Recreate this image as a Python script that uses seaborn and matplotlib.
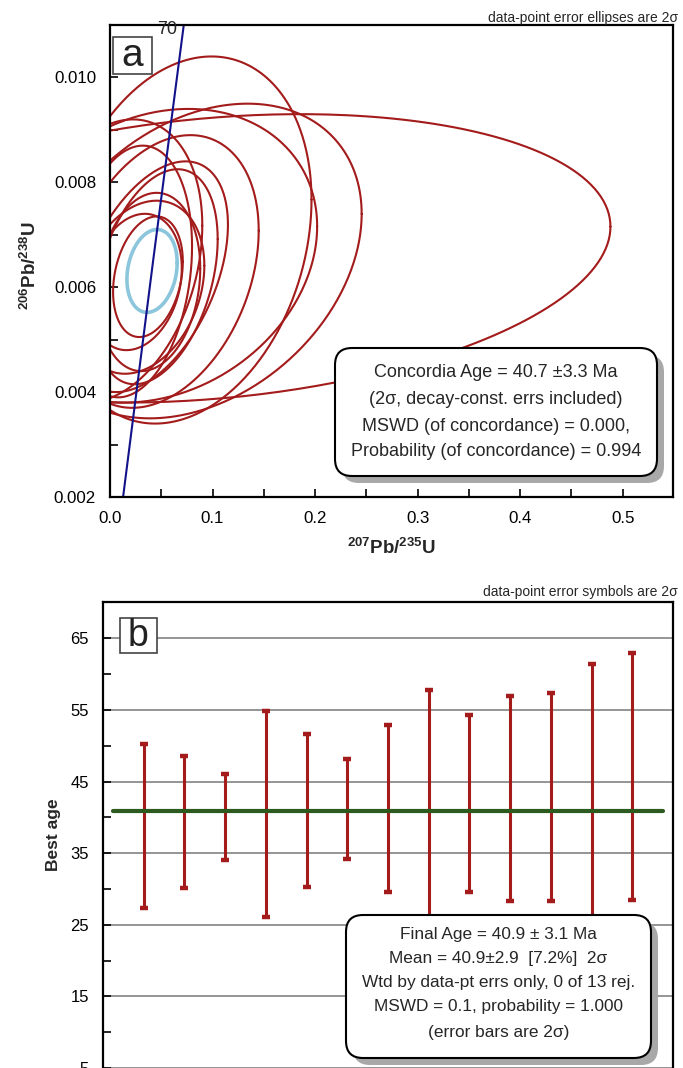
import numpy as np
import pandas as pd
import matplotlib
matplotlib.use("Agg")
import matplotlib.pyplot as plt
import seaborn as sns
from matplotlib.patches import FancyBboxPatch, Rectangle
from matplotlib.transforms import IdentityTransform
from matplotlib.ticker import MultipleLocator, FormatStrFormatter, FixedLocator

# ---------------- data: panel a (concordia) ----------------
ell_id  = [1, 2, 3, 4, 5, 6, 7, 8, 9, 10, 11, 12, 13]
ell_cx  = [0.037, 0.038, 0.030, 0.045, 0.040, 0.0715, 0.0864, 0.045, 0.100, 0.020, 0.000, 0.025, 0.050]
ell_cy  = [0.0062, 0.0061, 0.0060, 0.0062, 0.0062, 0.0069, 0.0065, 0.0066, 0.00655, 0.0063, 0.0065, 0.0061, 0.0063]
ell_sx  = [0.034, 0.050, 0.062, 0.060, 0.075, 0.125, 0.159, 0.157, 0.388, 0.060, 0.090, 0.045, 0.095]
ell_sy  = [0.00115, 0.00170, 0.00165, 0.00205, 0.00220, 0.0035, 0.0030, 0.0028, 0.00275, 0.0024, 0.0027, 0.0013, 0.0026]
ell_rho = [0.25, 0.15, 0.25, 0.35, 0.45, 0.22, 0.30, 0.20, 0.22, 0.20, 0.25, 0.20, 0.30]

conc_cx, conc_cy, conc_sx, conc_sy, conc_rho = 0.041, 0.00631, 0.0245, 0.00079, 0.20

concordia_x = [0.01277, 0.04202, 0.07193]
concordia_y = [0.0020, 0.0065, 0.0110]
concordia_label = "70"
concordia_label_pos = (0.0655, 0.01092)

box_a_lines = ["Concordia Age = 40.7 ±3.3 Ma",
               "(2σ, decay-const. errs included)",
               "MSWD (of concordance) = 0.000,",
               "Probability (of concordance) = 0.994"]

# ---------------- data: panel b (weighted mean) ----------------
sample_idx = [1, 2, 3, 4, 5, 6, 7, 8, 9, 10, 11, 12, 13]
age_high = [50.2, 48.6, 46.0, 54.8, 51.7, 48.2, 52.9, 57.8, 54.3, 57.0, 57.4, 61.4, 63.0]
age_low  = [27.3, 30.1, 34.0, 26.1, 30.3, 34.2, 29.6, 24.0, 29.6, 28.3, 28.3, 24.5, 28.4]
mean_age = 40.9
mean_span = [0.25, 13.75]

box_b_lines = ["Final Age = 40.9 ± 3.1 Ma",
               "Mean = 40.9±2.9  [7.2%]  2σ",
               "Wtd by data-pt errs only, 0 of 13 rej.",
               "MSWD = 0.1, probability = 1.000",
               "(error bars are 2σ)"]

# ---------------- style ----------------
sns.set_style("ticks")
plt.rcParams["font.family"] = ["Liberation Sans", "DejaVu Sans"]
plt.rcParams["mathtext.fontset"] = "custom"
plt.rcParams["mathtext.rm"] = "Liberation Sans"
plt.rcParams["mathtext.bf"] = "Liberation Sans:bold"

RED = "#A31B1B"
NAVY = "#12128A"
LBLUE = "#8CC6DC"
GREEN = "#2D5A1E"

W, H = 683, 1068
fig = plt.figure(figsize=(W / 100, H / 100), dpi=100)


def ax_rect(l, t, r, b):
    return [l / W, 1 - b / H, (r - l) / W, (b - t) / H]


def ellipse_points(cx, cy, sx, sy, rho, n=400):
    t = np.linspace(0, 2 * np.pi, n)
    x = cx + sx * np.cos(t)
    y = cy + sy * (rho * np.cos(t) + np.sqrt(1 - rho ** 2) * np.sin(t))
    return x, y


def label_box(x0, y0, x1, y1, letter, fs):
    r = Rectangle((x0, H - y1), x1 - x0, y1 - y0, transform=IdentityTransform(),
                  fc="white", ec="#444444", lw=1.2, zorder=8)
    fig.add_artist(r)
    fig.text((x0 + x1) / 2 / W, 1 - ((y0 + y1) / 2 + 1) / H, letter, ha="center", va="center",
             fontsize=fs, color="#222222", zorder=9)


# ---------------- panel a ----------------
axa = fig.add_axes(ax_rect(110, 25, 673, 497))
rows = []
for i, cx, cy, sx, sy, r in zip(ell_id, ell_cx, ell_cy, ell_sx, ell_sy, ell_rho):
    x, y = ellipse_points(cx, cy, sx, sy, r)
    rows.append(pd.DataFrame({"x": x, "y": y, "id": i}))
df_ell = pd.concat(rows, ignore_index=True)
sns.lineplot(data=df_ell, x="x", y="y", units="id", estimator=None, sort=False,
             color=RED, lw=1.5, ax=axa, legend=False)

cxs, cys = ellipse_points(conc_cx, conc_cy, conc_sx, conc_sy, conc_rho)
sns.lineplot(x=cxs, y=cys, sort=False, estimator=None, color=LBLUE, lw=2.6, ax=axa)

sns.lineplot(x=concordia_x, y=concordia_y, sort=False, estimator=None, color=NAVY, lw=1.5, ax=axa)
axa.text(*concordia_label_pos, concordia_label, ha="right", va="center", fontsize=13,
         clip_on=False, zorder=5)

axa.set_xlim(0, 0.549)
axa.set_ylim(0.002, 0.011)
axa.xaxis.set_major_locator(MultipleLocator(0.1))
axa.xaxis.set_minor_locator(MultipleLocator(0.05))
axa.xaxis.set_major_formatter(FormatStrFormatter("%.1f"))
axa.yaxis.set_major_locator(FixedLocator([0.002, 0.004, 0.006, 0.008, 0.010]))
axa.yaxis.set_minor_locator(MultipleLocator(0.001))
axa.yaxis.set_major_formatter(FormatStrFormatter("%.3f"))
axa.tick_params(which="both", direction="in", length=6, width=1.2, labelsize=12.2,
                top=False, right=False, pad=10, colors="black")
for s in axa.spines.values():
    s.set_linewidth(1.6)
    s.set_color("black")
axa.set_xlabel(r"$\mathbf{^{207}Pb/^{235}U}$", fontsize=13.5)
axa.set_ylabel(r"$\mathbf{^{206}Pb/^{238}U}$", fontsize=13.5)
axa.xaxis.set_label_coords(0.5, -0.108)
axa.xaxis.label.set_va("center")
axa.yaxis.set_label_coords(-0.142, 0.49)
axa.yaxis.label.set_va("center")
label_box(113, 37, 152, 74, "a", 28)

# ---------------- panel b ----------------
axb = fig.add_axes(ax_rect(103, 602.4, 673, 1103.9))
mid = [(h + l) / 2 for h, l in zip(age_high, age_low)]
half = [(h - l) / 2 for h, l in zip(age_high, age_low)]
axb.errorbar(sample_idx, mid, yerr=half, fmt="none", ecolor=RED, elinewidth=2.2,
             capsize=3.0, capthick=3.2, zorder=3)
sns.lineplot(x=mean_span, y=[mean_age, mean_age], color=GREEN, lw=3.0, ax=axb, zorder=4)
axb.set_xlim(0, 14)
axb.set_ylim(0, 70)
axb.yaxis.set_major_locator(FixedLocator([5, 15, 25, 35, 45, 55, 65]))
axb.yaxis.set_minor_locator(FixedLocator([10, 20, 30, 40, 50, 60, 70]))
axb.set_xticks([])
axb.grid(axis="y", which="major", color="#8C8C8C", lw=1.3, zorder=1)
axb.set_axisbelow(True)
axb.tick_params(which="both", direction="in", length=6, width=1.2, labelsize=12,
                top=False, right=False, pad=10, colors="black")
for s in axb.spines.values():
    s.set_linewidth(1.6)
    s.set_color("black")
axb.set_ylabel("Best age", fontsize=12.5, fontweight="bold")
axb.yaxis.set_label_coords(-0.087, 0.536)
axb.yaxis.label.set_va("center")
label_box(120, 618, 157, 653, "b", 27)

# ---------------- captions ----------------
fig.text(678 / W, 1 - 18 / H, "data-point error ellipses are 2σ", ha="right", va="center",
         fontsize=10)
fig.text(678 / W, 1 - 592 / H, "data-point error symbols are 2σ", ha="right", va="center",
         fontsize=10)


# ---------------- text boxes ----------------
def shadow_box(x0, y0, x1, y1, off, lines, ys, fs):
    sh = FancyBboxPatch((x0 + off, H - y1 - off), x1 - x0, y1 - y0,
                        boxstyle="round,pad=0,rounding_size=17", transform=IdentityTransform(),
                        fc="#A8A8A8", ec="none", zorder=10)
    bx = FancyBboxPatch((x0, H - y1), x1 - x0, y1 - y0,
                        boxstyle="round,pad=0,rounding_size=17", transform=IdentityTransform(),
                        fc="white", ec="black", lw=1.5, zorder=11)
    fig.add_artist(sh)
    fig.add_artist(bx)
    cx = (x0 + x1) / 2
    for s, yy in zip(lines, ys):
        fig.text(cx / W, 1 - yy / H, s, ha="center", va="center", fontsize=fs, zorder=12)


shadow_box(335, 348, 657, 476, 7, box_a_lines, [372.7, 400, 426.7, 451.7], 13)
shadow_box(346, 915, 651, 1058, 7, box_b_lines, [935, 959, 983, 1007, 1032], 12.4)

fig.savefig("out.png", dpi=100)
